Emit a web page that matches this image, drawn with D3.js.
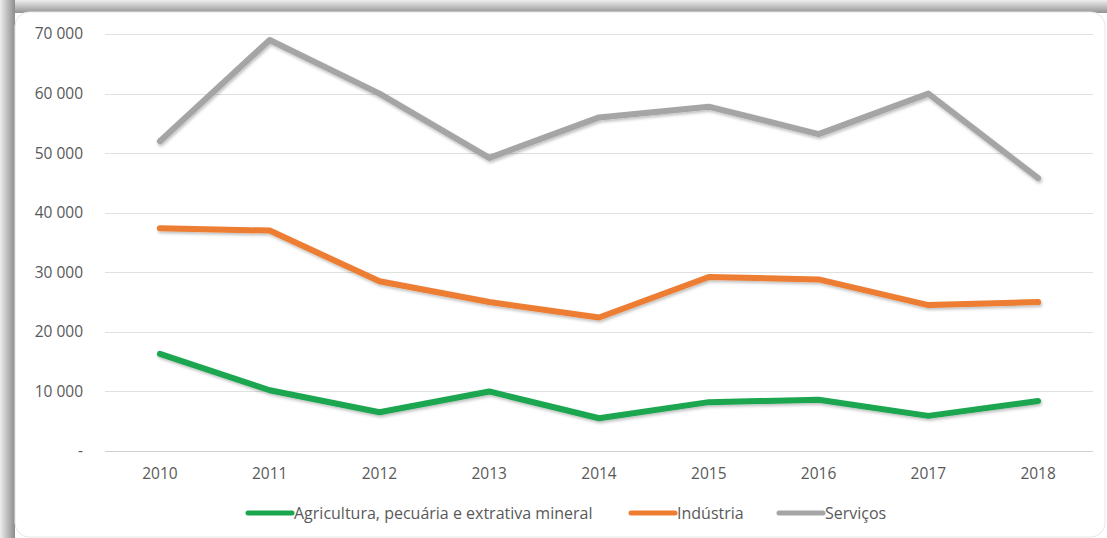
<!DOCTYPE html>
<html lang="pt">
<head>
<meta charset="utf-8">
<title>Setores 2010-2018</title>
<script src="https://cdn.jsdelivr.net/npm/d3@7"></script>
<style>
  body { margin: 0; background: #fff; }
  svg text { font-family: "Open Sans", "Noto Sans", sans-serif; fill: #595959; }
</style>
</head>
<body>
<script>
// chart data
var years = ["2010", "2011", "2012", "2013", "2014", "2015", "2016", "2017", "2018"];
var agricultura = [16300, 10200, 6500, 10000, 5500, 8200, 8600, 5900, 8400];
var industria = [37400, 37000, 28500, 25000, 22400, 29200, 28800, 24500, 25000];
var servicos = [52000, 69000, 60000, 49200, 56000, 57800, 53200, 60000, 45800];
var yTicks = [0, 10000, 20000, 30000, 40000, 50000, 60000, 70000];
var seriesNames = ["Agricultura, pecuária e extrativa mineral", "Indústria", "Serviços"];
var seriesColors = ["#1aa64f", "#ed7d31", "#a5a5a5"];

var w = 1107, h = 538;
var svg = d3.select("body").append("svg").attr("width", w).attr("height", h);

// shadowed frame around the card
var defs = svg.append("defs");
var gTop = defs.append("linearGradient").attr("id", "gTop").attr("x1", 0).attr("y1", 0).attr("x2", 0).attr("y2", 1);
gTop.append("stop").attr("offset", "0%").attr("stop-color", "#eeeeee");
gTop.append("stop").attr("offset", "100%").attr("stop-color", "#939393");
var gLeft = defs.append("linearGradient").attr("id", "gLeft").attr("x1", 0).attr("y1", 0).attr("x2", 1).attr("y2", 0);
gLeft.append("stop").attr("offset", "0%").attr("stop-color", "#ededed");
gLeft.append("stop").attr("offset", "100%").attr("stop-color", "#8c8c8c");
var shadow = defs.append("filter").attr("id", "shadow").attr("x", "-5%").attr("y", "-20%").attr("width", "110%").attr("height", "140%");
shadow.append("feDropShadow").attr("dx", 1).attr("dy", 2).attr("stdDeviation", 1.5)
      .attr("flood-color", "#000").attr("flood-opacity", 0.25);

svg.append("rect").attr("x", 0).attr("y", 0).attr("width", w).attr("height", 13).attr("fill", "url(#gTop)");
svg.append("rect").attr("x", 0).attr("y", 0).attr("width", 15).attr("height", h).attr("fill", "url(#gLeft)");
svg.append("rect").attr("x", 15).attr("y", 12).attr("width", w - 17).attr("height", h - 13)
   .attr("rx", 14).attr("fill", "#fff").attr("stroke", "#e6e6e6").attr("stroke-width", 1);

var plotLeft = 105, plotRight = 1093, plotTop = 34, plotBottom = 451;

var xScale = d3.scaleBand().domain(years).range([plotLeft, plotRight]);
var yScale = d3.scaleLinear().domain([0, 70000]).range([plotBottom, plotTop]);

// grid lines
svg.append("g").selectAll("line").data(yTicks).enter().append("line")
   .attr("x1", plotLeft).attr("x2", plotRight)
   .attr("y1", function(d) { return Math.round(yScale(d)) + 0.5; })
   .attr("y2", function(d) { return Math.round(yScale(d)) + 0.5; })
   .attr("stroke", function(d) { return d === 0 ? "#d0d0d0" : "#e0e0e0"; })
   .attr("stroke-width", 1);

var fmt = function(d) {
  if (d === 0) return "-";
  return d3.format(",")(d).replace(/,/g, " ");
};

var yAxis = d3.axisLeft(yScale).tickValues(yTicks).tickFormat(fmt).tickSize(0).tickPadding(0);
var yg = svg.append("g").attr("transform", "translate(83,0)").call(yAxis);
yg.select(".domain").remove();
yg.selectAll("text").attr("font-size", 15.5).attr("fill", "#595959");

var xAxis = d3.axisBottom(xScale).tickSize(0).tickPadding(0);
var xg = svg.append("g").attr("transform", "translate(0," + (plotBottom + 17) + ")").call(xAxis);
xg.select(".domain").remove();
xg.selectAll("text").attr("font-size", 15.5).attr("fill", "#595959");

var allSeries = [agricultura, industria, servicos];
var line = d3.line()
  .x(function(d, i) { return xScale(years[i]) + xScale.bandwidth() / 2; })
  .y(function(d) { return yScale(d); });

svg.append("g").selectAll("path").data(allSeries).enter().append("path")
   .attr("d", line)
   .attr("fill", "none")
   .attr("stroke", function(d, i) { return seriesColors[i]; })
   .attr("stroke-width", 6)
   .attr("stroke-linejoin", "round")
   .attr("stroke-linecap", "round")
   .attr("filter", "url(#shadow)");

// legend
var legendX = [248, 631, 779];
var leg = svg.append("g").selectAll("g").data(seriesNames).enter().append("g")
   .attr("transform", function(d, i) { return "translate(" + legendX[i] + "," + 513 + ")"; });
leg.append("line").attr("x1", 0).attr("x2", 44).attr("y1", 0).attr("y2", 0)
   .attr("stroke", function(d, i) { return seriesColors[i]; })
   .attr("stroke-width", 5).attr("stroke-linecap", "round");
leg.append("text").attr("x", 46).attr("y", 0).attr("dy", "0.35em")
   .attr("font-size", 16).text(function(d) { return d; });
</script>
</body>
</html>
